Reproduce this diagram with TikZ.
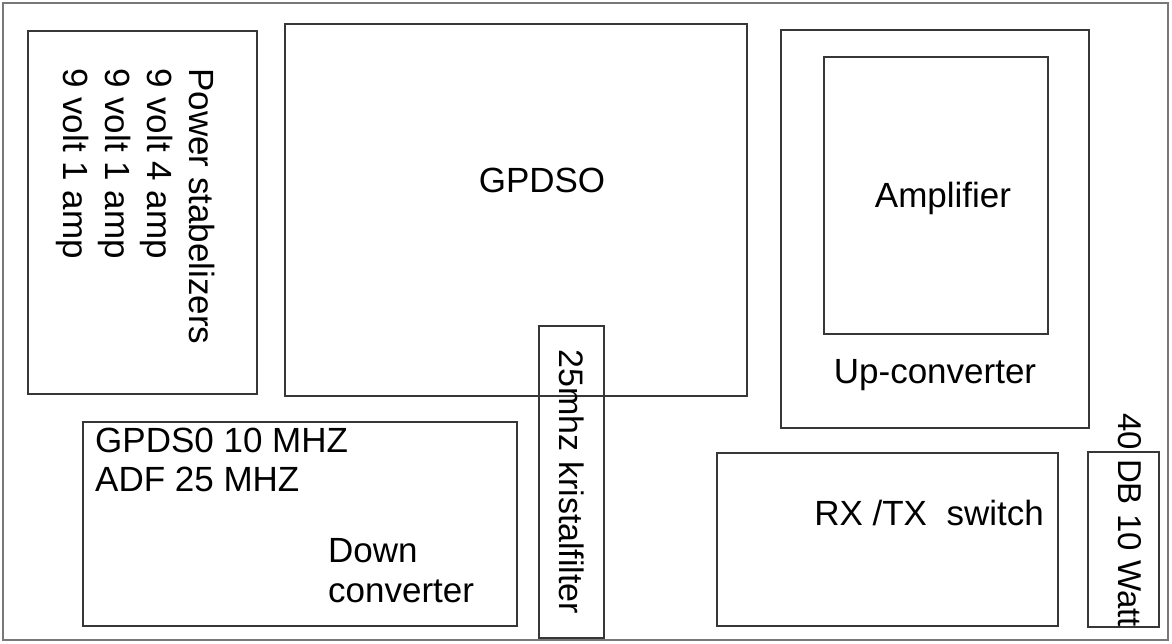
\documentclass[tikz,border=0pt]{standalone}
\usepackage{fontspec}
\setmainfont{Liberation Sans}
\usetikzlibrary{positioning}
\definecolor{BoxLine}{RGB}{55,55,55}
\definecolor{FrameLine}{RGB}{120,120,120}

\begin{document}
\begin{tikzpicture}[x=1pt,y=-1pt,
  box/.style={draw=BoxLine,line width=1.5pt,anchor=north west,inner sep=0pt},
  lbl/.style={inner sep=0pt,text=black,font=\fontsize{35}{42}\selectfont}]
\useasboundingbox (0,0) rectangle (1172,643);
\draw[FrameLine,line width=2pt] (3,3) rectangle (1168,640);
% blocks
\node[box,minimum width=229pt,minimum height=363pt] (power) at (27,30) {};
\node[box,minimum width=462pt,minimum height=372pt] (gpdso) at (284,23) {};
\node[box,minimum width=308pt,minimum height=398pt] (upconv) at (780,29) {};
\node[box,minimum width=224pt,minimum height=277pt] (amp) at (823,56) {};
\node[box,minimum width=434pt,minimum height=204pt] (downconv) at (82,421) {};
\node[box,minimum width=65pt,minimum height=312pt] (filter) at (538,325) {};
\node[box,minimum width=341pt,minimum height=173pt] (switch) at (716,452) {};
\node[box,minimum width=71pt,minimum height=175pt] (watt) at (1087,451) {};
% labels
\node[lbl,rotate=-90,align=left,anchor=north west] (powertxt) at (215,68)
  {Power stabelizers\\9 volt 4 amp\\9 volt 1 amp\\9 volt 1 amp};
\node[lbl,anchor=base] (gpdsotxt) at (542,192) {GPDSO};
\node[lbl,anchor=base] (amptxt) at (943,207) {Amplifier};
\node[lbl,anchor=base] (uptxt) at (935,383) {Up-converter};
\node[lbl,rotate=-90,font=\fontsize{34}{40}\selectfont] (filtertxt) at (572,482) {25mhz kristalfilter};
\node[lbl,rotate=-90,font=\fontsize{33}{40}\selectfont] (watttxt) at (1130,520) {40 DB 10 Watt};
\node[lbl,align=left,anchor=north west,font=\fontsize{35}{39}\selectfont] (freqtxt) at (95,428)
  {GPDS0 10 MHZ\\ADF 25 MHZ};
\node[lbl,align=left,anchor=north west,font=\fontsize{35}{40}\selectfont] (downtxt) at (328,538) {Down\\converter};
\node[lbl,anchor=base] (switchtxt) at (929,525) {RX /TX\ \ switch};
\end{tikzpicture}
\end{document}
